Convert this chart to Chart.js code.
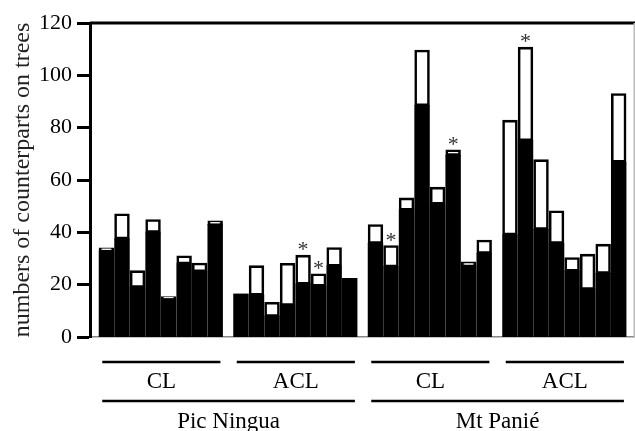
<!DOCTYPE html>
<html>
<head>
<meta charset="utf-8">
<script src="https://cdn.jsdelivr.net/npm/chart.js@4"></script>
<style>
  html, body { margin: 0; padding: 0; background: #fff; }
  #wrap { width: 635px; height: 431px; }
</style>
</head>
<body>
<div id="wrap"><canvas id="chart"></canvas></div>
<script>
// sites and habitat groups, 8 trees per group
const sites = ["Pic Ningua", "Mt Panié"];
const habitats = ["CL", "ACL", "CL", "ACL"];
const treesPerGroup = 8;

// black part of each bar (lower value)
const lowerCounts = [
  33, 37.5, 19, 40, 14.6, 28, 25, 43,
  16.4, 16, 7.9, 12.1, 20.2, 19.5, 27.1, 22.4,
  35.8, 26.8, 48.5, 88.4, 50.8, 69.4, 27.1, 32,
  39, 75.1, 41.1, 35.8, 25.2, 18.2, 24.3, 66.8
];
// full height of each bar
const totalCounts = [
  34, 47, 25.3, 44.8, 15.4, 31, 28.2, 44.3,
  16.4, 27.2, 13.2, 28.1, 31.2, 24.1, 34.1, 22.4,
  42.9, 34.9, 53.1, 109.6, 57.2, 71.5, 28.7, 37,
  82.8, 110.7, 67.7, 48.2, 30.3, 31.6, 35.4, 93
];
// bars marked with an asterisk
const starred = [12, 13, 17, 21, 25];

const yMin = 0, yMax = 120, yStep = 20;
const groupGap = 0.66;   // extra space between groups, in bar slots

const FONT = "'Liberation Serif', 'Times New Roman', serif";

const slotPos = i => Math.floor(i / treesPerGroup) * (treesPerGroup + groupGap) + (i % treesPerGroup);
const lowerData = lowerCounts.map((v, i) => ({ x: slotPos(i), y: v }));
const upperData = totalCounts.map((v, i) => ({ x: slotPos(i), y: Math.max(0, v - lowerCounts[i]) }));

const annotations = {
  id: "annotations",
  afterDatasetsDraw(chart) {
    const { ctx, chartArea: a } = chart;
    ctx.save();
    // frame: thick top, light right
    ctx.strokeStyle = "#000";
    ctx.lineWidth = 3;
    ctx.beginPath();
    ctx.moveTo(a.left, a.top);
    ctx.lineTo(a.right, a.top);
    ctx.stroke();
    ctx.strokeStyle = "#bbb";
    ctx.lineWidth = 1.5;
    ctx.beginPath();
    ctx.moveTo(a.right - 0.75, a.top);
    ctx.lineTo(a.right - 0.75, a.bottom);
    ctx.stroke();

    // asterisks
    const top = chart.getDatasetMeta(1).data;
    ctx.fillStyle = "#333";
    ctx.font = "22px " + FONT;
    ctx.textAlign = "center";
    ctx.textBaseline = "alphabetic";
    starred.forEach(i => ctx.fillText("*", top[i].x, top[i].y + 1));

    // group lines and labels under the axis
    const bars = chart.getDatasetMeta(0).data;
    const left = i => bars[i].x - bars[i].width / 2;
    const right = i => bars[i].x + bars[i].width / 2;
    ctx.strokeStyle = "#000";
    ctx.lineWidth = 2.6;
    ctx.fillStyle = "#000";
    ctx.font = "23px " + FONT;
    habitats.forEach((h, g) => {
      const x0 = left(g * treesPerGroup) + 3;
      const x1 = right(g * treesPerGroup + treesPerGroup - 1) - 2;
      ctx.beginPath();
      ctx.moveTo(x0, 362);
      ctx.lineTo(x1, 362);
      ctx.stroke();
      ctx.fillText(h, (x0 + x1) / 2, 388);
    });
    sites.forEach((s, k) => {
      const x0 = left(k * 2 * treesPerGroup) + 3;
      const x1 = right((k * 2 + 2) * treesPerGroup - 1) - 2;
      ctx.beginPath();
      ctx.moveTo(x0, 401);
      ctx.lineTo(x1, 401);
      ctx.stroke();
      ctx.fillText(s, (x0 + x1) / 2, 428);
    });
    ctx.restore();
  }
};

new Chart(document.getElementById("chart"), {
  type: "bar",
  data: {
    datasets: [
      {
        label: "lower",
        data: lowerData,
        backgroundColor: "#000",
        borderColor: "#000",
        borderWidth: 0,
        inflateAmount: 0.5,
        categoryPercentage: 1,
        barPercentage: 0.93
      },
      {
        label: "upper",
        data: upperData,
        backgroundColor: "#fff",
        borderColor: "#000",
        borderWidth: 2.6,
        borderSkipped: false,
        inflateAmount: 0.5,
        categoryPercentage: 1,
        barPercentage: 0.93
      }
    ]
  },
  options: {
    responsive: true,
    maintainAspectRatio: false,
    animation: false,
    layout: { padding: { top: 23, right: 0, left: 0, bottom: 0 } },
    plugins: { legend: { display: false }, tooltip: { enabled: false } },
    scales: {
      x: {
        type: "linear",
        stacked: true,
        offset: false,
        min: -1.06,
        max: 34.03,
        grid: { display: false },
        ticks: { display: false },
        border: { color: "#888", width: 1.5 },
        afterFit: s => { s.height = 94; }
      },
      y: {
        stacked: true,
        min: yMin,
        max: yMax,
        ticks: {
          stepSize: yStep,
          color: "#000",
          padding: 5,
          font: { family: FONT, size: 22 }
        },
        grid: {
          drawOnChartArea: false,
          tickLength: 13,
          tickWidth: 3,
          tickColor: "#000"
        },
        border: { color: "#000", width: 3 },
        title: {
          display: true,
          text: "numbers of counterparts on trees",
          color: "#222",
          font: { family: FONT, size: 24 },
          padding: { top: 8, bottom: 0 }
        },
        afterFit: s => { s.width = 90; }
      }
    }
  },
  plugins: [annotations]
});
</script>
</body>
</html>
